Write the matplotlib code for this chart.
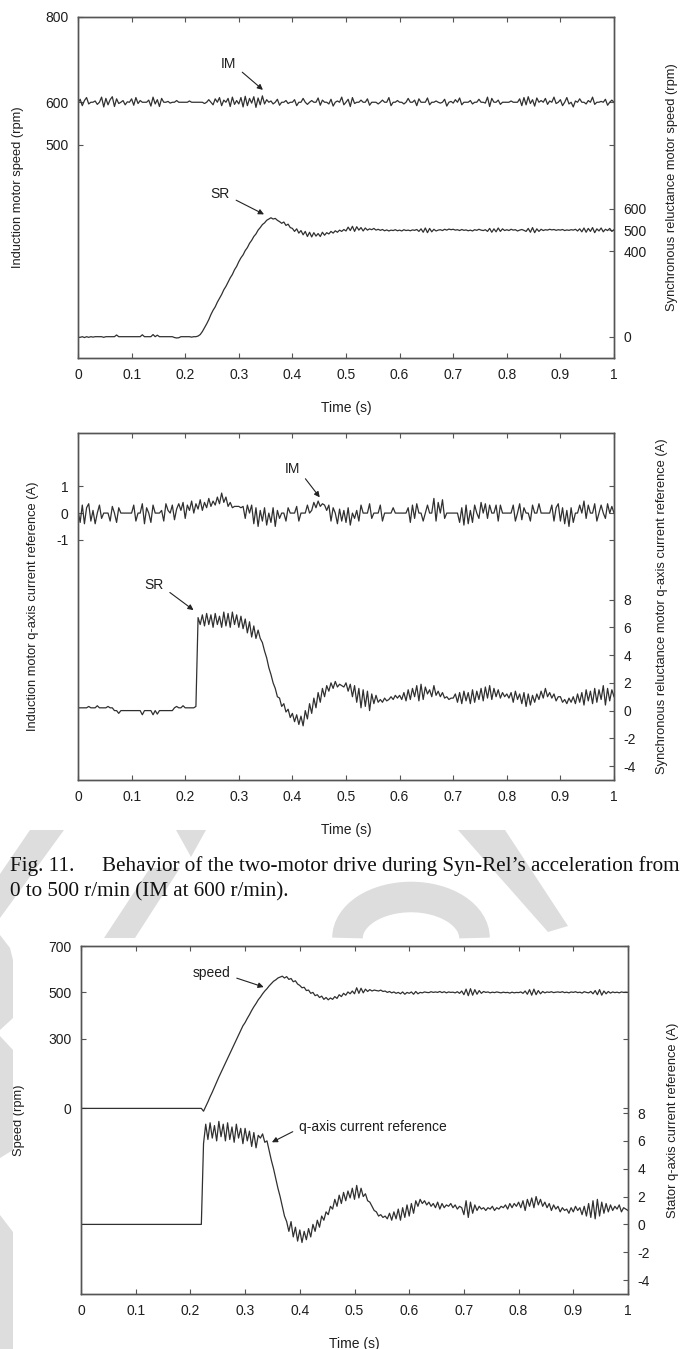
import numpy as np
import matplotlib
matplotlib.use("Agg")
import matplotlib.pyplot as plt
from matplotlib.patches import Polygon, Arc

W, H = 686, 1349
LINE = "#303030"
SPINE = "#555555"
TXT = "#1e1e1e"
WMARK = "#dddddd"

plt.rcParams.update({
    "font.family": ["Liberation Sans", "DejaVu Sans"],
    "axes.unicode_minus": False,
})

# ---- data (sampled every 4 ms, 0 .. 1 s) ----
# panel 1: induction motor speed (rpm, left axis)
im_speed = [
    598, 607, 592, 604, 611, 596, 600, 600, 603, 595, 600, 612, 589, 609, 594, 606, 613, 590, 608, 597, 600, 604, 594, 601, 600,
    608, 593, 611, 597, 604, 600, 600, 600, 605, 591, 612, 596, 606, 590, 609, 600, 600, 602, 598, 600, 600, 604, 600, 600, 600,
    600, 600, 603, 600, 600, 600, 600, 600, 600, 597, 600, 606, 600, 594, 608, 600, 611, 592, 605, 600, 609, 590, 612, 595, 604,
    596, 611, 589, 614, 592, 609, 598, 613, 588, 610, 594, 615, 596, 606, 600, 603, 596, 600, 607, 593, 600, 600, 604, 597, 600,
    600, 606, 592, 600, 600, 609, 600, 595, 600, 604, 600, 600, 610, 593, 605, 600, 600, 596, 607, 591, 600, 603, 600, 612, 594,
    600, 607, 590, 611, 597, 600, 600, 605, 600, 600, 608, 593, 600, 600, 600, 596, 600, 605, 600, 600, 611, 592, 600, 600, 604,
    600, 600, 596, 600, 609, 600, 600, 605, 592, 608, 600, 600, 600, 610, 594, 600, 600, 603, 600, 598, 600, 607, 591, 600, 602,
    598, 606, 600, 610, 594, 600, 600, 600, 604, 596, 600, 600, 607, 600, 600, 598, 612, 590, 609, 600, 600, 605, 595, 600, 600,
    600, 600, 603, 600, 600, 600, 608, 592, 611, 594, 613, 597, 606, 591, 610, 600, 604, 600, 609, 595, 603, 600, 612, 597, 600,
    606, 592, 600, 611, 596, 600, 589, 603, 600, 608, 600, 600, 596, 604, 600, 612, 595, 600, 600, 602, 600, 607, 593, 600, 605,
    600,
]
# panel 1: synchronous reluctance motor speed (rpm, right axis)
sr_speed = [
    -3, -3, 0, -4, 0, -3, 0, -2, 0, 0, 0, 0, -3, 0, 0, 0, 0, 0, 8, 0, 0, 0, 0, 0, 0,
    0, 0, 0, 0, 0, 9, 0, 0, 0, 0, 10, 0, 7, 0, 0, 0, 0, 0, 0, 0, -4, -6, -5, 0, 0,
    0, 0, 0, -2, 0, 0, 3, 10, 24, 42, 60, 80, 104, 124, 140, 162, 180, 198, 220, 236, 256, 276, 292, 314, 330,
    352, 370, 384, 404, 418, 438, 452, 470, 482, 500, 512, 526, 534, 546, 552, 558, 552, 555, 546, 540, 532, 538, 522, 528, 512,
    508, 494, 506, 486, 498, 478, 494, 470, 490, 468, 488, 472, 484, 470, 490, 476, 488, 482, 494, 486, 497, 490, 500, 494, 503,
    496, 514, 498, 518, 494, 516, 500, 512, 496, 510, 500, 506, 502, 508, 500, 504, 499, 503, 497, 501, 496, 500, 498, 502, 497,
    500, 496, 502, 498, 500, 497, 501, 499, 503, 494, 506, 490, 510, 488, 508, 492, 504, 496, 500, 502, 498, 504, 500, 505, 502,
    504, 500, 502, 498, 503, 499, 501, 497, 500, 496, 502, 499, 504, 500, 498, 502, 494, 508, 490, 506, 492, 510, 494, 506, 498,
    502, 498, 504, 500, 502, 496, 500, 503, 499, 494, 508, 490, 512, 488, 506, 494, 504, 498, 502, 500, 504, 501, 503, 499, 502,
    500, 503, 498, 501, 499, 502, 500, 504, 496, 506, 492, 510, 490, 508, 494, 512, 488, 506, 496, 510, 492, 504, 498, 508, 494,
    502,
]
# panel 2: induction motor q-axis current reference (A, left axis)
im_iq = [
    0.1, -0.35, 0.3, -0.4, 0.2, 0.35, -0.3, 0.1, -0.4, 0.0, 0.3, -0.2, 0.0, 0.0, 0.0, -0.3, 0.25, 0.0, -0.35, 0.2, 0.0, 0.0, 0.0, 0.0, 0.0,
    0.0, 0.3, -0.3, 0.0, 0.0, 0.35, -0.4, 0.2, 0.0, -0.35, 0.3, 0.0, 0.0, 0.0, 0.1, -0.3, 0.35, 0.1, 0.0, 0.3, -0.25, 0.15, 0.35, 0.1, 0.4,
    -0.2, 0.3, 0.1, 0.45, 0.0, 0.35, 0.15, 0.5, 0.1, 0.4, 0.2, 0.55, 0.25, 0.45, 0.3, 0.6, 0.35, 0.75, 0.4, 0.6, 0.25, 0.4, 0.2, 0.25, 0.25,
    0.25, 0.2, 0.25, -0.2, 0.3, 0.0, 0.3, -0.4, 0.2, -0.5, 0.1, -0.3, 0.2, -0.45, 0.0, -0.35, 0.2, -0.5, 0.1, -0.2, 0.0, 0.0, -0.3, 0.2, 0.0,
    0.0, 0.0, 0.25, -0.3, 0.0, 0.0, 0.0, 0.3, 0.0, 0.1, 0.4, 0.2, 0.45, 0.25, 0.35, 0.3, 0.1, 0.3, -0.3, 0.2, 0.0, -0.4, 0.15, -0.3, 0.1,
    -0.35, 0.2, -0.45, 0.0, -0.2, 0.1, -0.3, 0.3, 0.0, 0.0, 0.0, 0.35, -0.2, 0.0, 0.0, 0.0, 0.3, -0.3, 0.0, 0.0, 0.0, 0.0, 0.2, 0.0, 0.0,
    0.0, 0.0, 0.0, 0.0, 0.2, -0.35, 0.3, -0.2, 0.35, 0.0, 0.0, -0.3, 0.0, 0.3, 0.0, 0.0, 0.55, -0.3, 0.4, 0.0, 0.5, -0.2, 0.0, 0.0, 0.0,
    0.0, 0.0, 0.0, -0.35, 0.2, -0.45, 0.3, -0.4, 0.1, -0.35, 0.3, 0.0, -0.2, 0.4, 0.0, 0.35, -0.2, 0.3, 0.0, 0.0, 0.3, -0.3, 0.3, 0.0, 0.0,
    0.0, 0.0, 0.0, 0.3, -0.3, 0.0, 0.35, -0.25, 0.2, 0.0, 0.0, -0.3, 0.3, 0.0, 0.0, 0.35, 0.0, 0.0, 0.0, 0.0, 0.0, 0.3, -0.3, 0.2, 0.35,
    -0.3, 0.2, -0.4, 0.1, -0.5, 0.2, -0.35, 0.0, 0.0, 0.3, 0.0, 0.45, -0.2, 0.3, 0.0, 0.0, 0.35, -0.3, 0.0, 0.3, 0.0, -0.2, 0.35, 0.0, 0.25,
    0.0,
]
# panel 2: synchronous reluctance motor q-axis current reference (A, right axis)
sr_iq = [
    0.2, 0.2, 0.2, 0.2, 0.2, 0.3, 0.2, 0.2, 0.2, 0.35, 0.2, 0.2, 0.2, 0.2, 0.3, 0.2, 0.2, 0.0, 0.0, -0.2, 0.0, 0.0, 0.0, 0.0, 0.0,
    0.0, 0.0, 0.0, 0.0, 0.0, -0.3, 0.0, 0.0, 0.0, 0.0, -0.3, 0.0, -0.25, 0.0, 0.0, 0.0, 0.0, 0.0, 0.0, 0.0, 0.2, 0.3, 0.2, 0.2, 0.35,
    0.2, 0.2, 0.2, 0.2, 0.2, 0.3, 6.7, 6.2, 6.9, 6.1, 7.0, 6.2, 6.9, 6.0, 7.0, 6.2, 6.8, 6.0, 7.1, 6.1, 7.0, 6.0, 7.1, 6.2, 6.9,
    6.0, 6.8, 5.9, 6.6, 5.6, 6.4, 5.3, 6.1, 5.2, 5.8, 5.2, 4.9, 4.3, 3.8, 3.1, 2.6, 2.0, 1.6, 1.0, 0.9, 0.3, 0.5, -0.1, 0.1, -0.5,
    -0.2, -0.8, -0.3, -1.0, -0.4, -1.1, 0.0, -0.6, 0.5, -0.2, 0.9, 0.2, 1.3, 0.6, 1.6, 1.0, 1.8, 1.4, 2.0, 1.6, 2.1, 1.7, 1.9, 1.8, 1.7,
    2.0, 1.4, 1.9, 1.0, 1.8, 0.6, 1.6, 0.2, 1.5, 0.3, 1.4, 0.0, 1.2, 0.5, 1.1, 0.6, 0.8, 0.6, 0.9, 0.7, 0.8, 1.0, 0.8, 1.1, 0.9,
    1.1, 0.8, 1.3, 0.7, 1.5, 0.8, 1.6, 1.0, 1.8, 0.7, 1.9, 0.8, 1.7, 1.2, 1.5, 1.0, 1.8, 1.1, 1.4, 1.0, 1.3, 0.9, 1.0, 0.8, 0.9,
    0.9, 1.2, 0.6, 1.3, 0.5, 1.4, 0.7, 1.3, 0.5, 1.5, 0.6, 1.4, 0.8, 1.6, 0.7, 1.7, 0.9, 1.8, 0.8, 1.6, 1.0, 1.5, 0.9, 1.3, 1.0,
    1.2, 0.9, 1.3, 0.6, 1.4, 0.8, 1.2, 0.5, 1.3, 0.3, 1.2, 0.4, 1.1, 0.6, 1.2, 0.8, 1.4, 0.9, 1.6, 1.0, 1.3, 0.9, 1.2, 0.7, 1.0,
    1.0, 0.6, 0.8, 0.5, 0.9, 0.6, 1.0, 0.5, 1.2, 0.6, 1.3, 0.4, 1.5, 0.7, 1.4, 0.5, 1.6, 0.6, 1.5, 0.8, 1.8, 0.4, 1.6, 0.7, 1.5,
    1.0,
]
# panel 3: Syn-Rel speed (rpm, left axis), flat at 0 before the start
speed = [0] * 56 + [
    -12, 8, 28, 50, 70, 92, 115, 135, 155, 175, 195, 216, 236, 256, 276, 296, 316, 336, 356,
    370, 388, 404, 422, 438, 452, 468, 480, 494, 506, 516, 528, 538, 548, 554, 562, 566, 570, 562, 568, 556, 560, 546, 550, 536,
    530, 520, 522, 508, 510, 496, 500, 486, 490, 478, 484, 470, 478, 468, 476, 470, 482, 474, 490, 482, 496, 488, 502, 494, 506,
    494, 520, 496, 518, 498, 514, 504, 512, 506, 510, 508, 506, 510, 504, 506, 500, 504, 498, 502, 496, 500, 494, 502, 492, 500,
    496, 502, 492, 504, 494, 500, 498, 502, 500, 499, 503, 500, 502, 500, 504, 499, 503, 498, 502, 500, 501, 498, 503, 496, 506,
    490, 514, 486, 516, 488, 512, 492, 508, 496, 504, 500, 502, 498, 501, 499, 502, 500, 498, 501, 499, 500, 497, 501, 498, 500,
    499, 502, 496, 506, 492, 512, 488, 514, 490, 508, 494, 504, 498, 502, 500, 503, 499, 501, 502, 500, 503, 499, 501, 498, 502,
    500, 503, 499, 501, 497, 503, 500, 498, 504, 494, 508, 490, 512, 488, 506, 494, 504, 497, 502, 499, 501, 498, 502, 500, 501,
    500,
]
# panel 3: stator q-axis current reference (A, right axis), flat at 0 before the step
iq_ref = [0] * 56 + [
    5.8, 7.2, 6.1, 7.3, 6.2, 7.1, 6.0, 7.4, 6.3, 7.2, 6.0, 7.3, 6.1, 7.0, 5.9, 7.2, 6.2, 6.9, 5.8,
    6.9, 6.0, 6.7, 5.6, 6.6, 5.5, 6.4, 6.2, 6.5, 5.9, 6.0, 5.3, 4.6, 4.0, 3.3, 2.6, 2.0, 1.3, 0.6, 0.2, -0.5, 0.2, -0.9, -0.2, -1.2,
    -0.4, -1.3, -0.5, -1.1, -0.3, -0.9, 0.0, -0.5, 0.3, -0.2, 0.6, 0.3, 0.9, 0.7, 1.3, 1.1, 1.8, 1.3, 2.1, 1.5, 2.3, 1.7, 2.4, 1.9, 2.6,
    1.8, 2.8, 1.9, 2.6, 2.0, 2.2, 1.7, 1.6, 1.3, 1.0, 0.9, 0.6, 0.7, 0.5, 0.6, 0.4, 0.8, 0.3, 0.9, 0.4, 1.1, 0.3, 1.2, 0.5, 1.4,
    0.6, 1.5, 0.8, 1.7, 1.3, 1.8, 1.5, 1.7, 1.4, 1.6, 1.3, 1.5, 1.2, 1.6, 1.1, 1.5, 1.2, 1.4, 1.3, 1.5, 1.2, 1.4, 1.1, 1.3, 1.2,
    0.7, 1.7, 0.5, 1.6, 0.8, 1.4, 1.0, 1.3, 1.1, 1.2, 1.0, 1.2, 1.1, 1.3, 1.0, 1.2, 1.1, 1.3, 1.2, 1.4, 1.1, 1.5, 1.2, 1.5, 1.3,
    1.6, 1.2, 1.7, 1.0, 1.8, 1.3, 1.9, 1.2, 2.0, 1.4, 1.8, 1.3, 1.6, 1.2, 1.5, 1.0, 1.4, 1.1, 1.3, 0.9, 1.2, 1.0, 1.1, 0.8, 1.2,
    0.9, 1.3, 1.0, 1.2, 0.7, 1.3, 0.6, 1.5, 0.5, 1.7, 0.4, 1.8, 0.6, 1.6, 0.8, 1.5, 0.9, 1.4, 1.0, 1.3, 1.1, 1.4, 0.9, 1.2, 1.1,
    1.0,
]

x_ticks = [0, 0.1, 0.2, 0.3, 0.4, 0.5, 0.6, 0.7, 0.8, 0.9, 1]
x_ticklabels = ["0", "0.1", "0.2", "0.3", "0.4", "0.5", "0.6", "0.7", "0.8", "0.9", "1"]


def tbase(series):
    return np.linspace(0, 1, len(series))


def box(x0, y0, x1, y1):
    return [x0 / W, 1 - y1 / H, (x1 - x0) / W, (y1 - y0) / H]


def style_pair(ax, axr, ylim_l, yt_l, ylim_r, yt_r, labels, lab_x):
    ax.set_xlim(0, 1)
    ax.set_xticks(x_ticks)
    ax.set_xticklabels(x_ticklabels)
    ax.set_ylim(*ylim_l)
    ax.set_yticks(yt_l)
    axr.set_ylim(*ylim_r)
    axr.set_yticks(yt_r)
    for a in (ax, axr):
        for sp in a.spines.values():
            sp.set_color(SPINE)
            sp.set_linewidth(1.0)
    ax.tick_params(axis="x", direction="in", top=True, length=3.5, width=0.8,
                   colors=SPINE, labelcolor=TXT, labelsize=10, pad=7)
    ax.tick_params(axis="y", direction="in", left=True, right=True, length=3.5,
                   width=0.8, colors=SPINE, labelcolor=TXT, labelsize=10, pad=7)
    axr.tick_params(axis="y", direction="in", right=True, left=False, length=3.5,
                    width=0.8, colors=SPINE, labelcolor=TXT, labelsize=10, pad=7)
    ax.set_xlabel("Time (s)", fontsize=10, color=TXT, labelpad=14)
    ax.set_ylabel(labels[0], fontsize=9.3, color=TXT)
    axr.set_ylabel(labels[1], fontsize=9.3, color=TXT)
    ax.yaxis.set_label_coords(lab_x[0], 0.5)
    axr.yaxis.set_label_coords(lab_x[1], 0.5)


def note(ax, text, tip, pos, ha="center"):
    ax.annotate(text, xy=tip, xytext=pos, ha=ha, va="center", fontsize=10,
                color=TXT,
                arrowprops=dict(arrowstyle="-|>", color="#222222", lw=0.8,
                                mutation_scale=8, shrinkA=3, shrinkB=0,
                                relpos=(1.0, 0.3) if ha == "center" else (0.0, 0.4)))


fig = plt.figure(figsize=(W / 100, H / 100), dpi=100)
fig.patch.set_facecolor("white")

# faint watermark shapes behind the page (pixel coords, y from top)
def px(pts):
    return [(x / 100, (H - y) / 100) for x, y in pts]

wm_polys = [
    [(30, 830), (64, 830), (0, 918), (0, 874)],
    [(176, 830), (206, 830), (191, 857)],
    [(150, 868), (180, 868), (135, 938), (104, 938)],
    [(458, 830), (505, 830), (568, 926), (548, 932)],
    [(0, 935), (10, 948), (13, 960), (13, 1018), (0, 1030)],
    [(0, 1036), (13, 1050), (13, 1150), (0, 1158)],
    [(0, 1215), (13, 1232), (13, 1349), (0, 1349)],
]
for pts in wm_polys:
    fig.patches.append(Polygon(px(pts), closed=True, facecolor=WMARK,
                               edgecolor="none", transform=fig.dpi_scale_trans,
                               zorder=0))
fig.patches.append(Arc((4.11, (H - 938) / 100), 1.27, 0.82, theta1=0, theta2=180,
                       color=WMARK, lw=22, transform=fig.dpi_scale_trans,
                       capstyle="butt", zorder=0))

# ---- panel 1 ----
ax1 = fig.add_axes(box(78, 17, 614, 358))
ax1r = ax1.twinx()
ax1.plot(tbase(im_speed), im_speed, color=LINE, lw=0.9)
ax1r.plot(tbase(sr_speed), sr_speed, color=LINE, lw=0.9)
style_pair(ax1, ax1r, (0, 800), [500, 600, 800], (-100, 1500), [0, 400, 500, 600],
           ("Induction motor speed (rpm)", "Synchronous reluctance motor speed (rpm)"),
           (-0.10, 1.097))
note(ax1, "IM", (0.345, 629), (0.281, 689))
note(ax1r, "SR", (0.347, 574), (0.265, 669))

# ---- panel 2 ----
ax2 = fig.add_axes(box(78, 433, 614, 780))
ax2r = ax2.twinx()
ax2.plot(tbase(im_iq), im_iq, color=LINE, lw=0.9)
ax2r.plot(tbase(sr_iq), sr_iq, color=LINE, lw=0.9)
style_pair(ax2, ax2r, (-10, 3), [-1, 0, 1], (-5, 20), [-4, -2, 0, 2, 4, 6, 8],
           ("Induction motor q-axis current reference (A)",
            "Synchronous reluctance motor q-axis current reference (A)"),
           (-0.073, 1.078))
note(ax2, "IM", (0.451, 0.59), (0.40, 1.65))
note(ax2r, "SR", (0.2155, 7.24), (0.142, 9.04))

# ---- caption ----
cap = dict(family="Liberation Serif", fontsize=15.2, color="#111111", va="center")
fig.text(10 / W, 1 - 866 / H, "Fig. 11.", **cap)
fig.text(102 / W, 1 - 866 / H,
         "Behavior of the two-motor drive during Syn-Rel\u2019s acceleration from", **cap)
fig.text(10 / W, 1 - 892 / H, "0 to 500 r/min (IM at 600 r/min).", **cap)

# ---- panel 3 ----
ax3 = fig.add_axes(box(81, 946, 628, 1294))
ax3r = ax3.twinx()
ax3.plot(tbase(speed), speed, color=LINE, lw=0.9)
ax3r.plot(tbase(iq_ref), iq_ref, color=LINE, lw=0.9)
style_pair(ax3, ax3r, (-800, 700), [0, 300, 500, 700], (-5, 20), [-4, -2, 0, 2, 4, 6, 8],
           ("Speed (rpm)", "Stator q-axis current reference (A)"),
           (-0.103, 1.071))
note(ax3, "speed", (0.334, 523), (0.238, 583))
note(ax3r, "q-axis current reference", (0.349, 5.9), (0.399, 7.0), ha="left")

fig.savefig("out.png", dpi=100, facecolor="white")
